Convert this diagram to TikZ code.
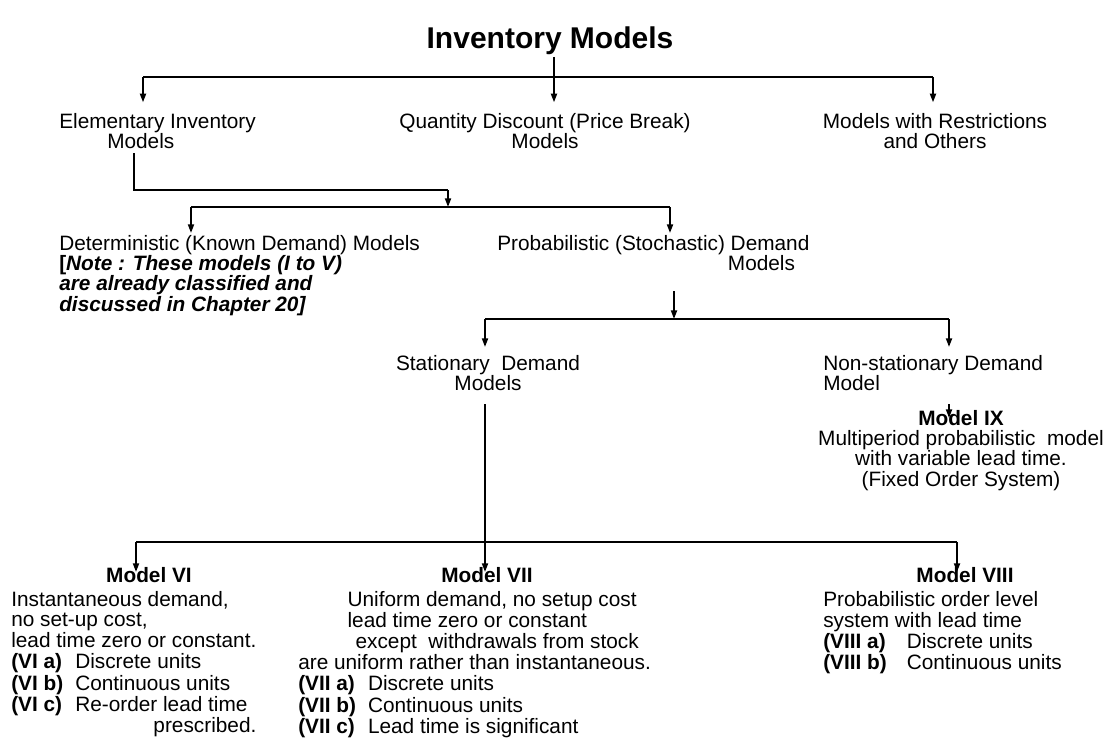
\documentclass[tikz,border=0pt]{standalone}
\usepackage{fontspec}
\setmainfont{Liberation Sans}
\usetikzlibrary{arrows.meta}

\tikzset{
  txt/.style={inner sep=0pt, font=\fontsize{15.6}{15.2}\selectfont},
  hd/.style={txt, font=\fontsize{15.6}{15.2}\selectfont\bfseries},
  ttl/.style={inner sep=0pt, font=\fontsize{22.5}{24}\selectfont\bfseries},
  link/.style={line width=1.4pt},
  arr/.style={link, -{Triangle[length=6.5pt,width=4.5pt]}},
}
\newcommand{\lab}[1]{\textbf{#1}}

\begin{document}
\begin{tikzpicture}[x=0.75pt,y=0.75pt,yscale=-1]
\useasboundingbox (0,0) rectangle (1113,756);

%title
\node[ttl, anchor=base] (title) at (550,49) {Inventory Models};

%first level
\node[txt, anchor=north west, align=left] (elem) at (59,113) {Elementary Inventory\\\hspace*{36pt}Models};
\node[txt, anchor=north, align=center] (qd) at (545,113) {Quantity Discount (Price Break)\\Models};
\node[txt, anchor=north, align=center] (restr) at (935,113) {Models with Restrictions\\and Others};

\coordinate (a1) at (143,77);
\coordinate (a2) at (554,77);
\coordinate (a3) at (933,77);
\draw[link] (a1) -- (a3);
\draw[arr, shorten <=1pt, shorten >=8pt] (title.south -| a2) -- (a2 |- qd.north);
\draw[arr, shorten >=8pt] (a1) -- (a1 |- elem.north);
\draw[arr, shorten >=8pt] (a3) -- (a3 |- restr.north);

%second level
\coordinate (e1) at (134,190);
\coordinate (e2) at (448,190);
\coordinate (b1) at (191,207);
\coordinate (b2) at (448,207);
\coordinate (b3) at (670,207);
\draw[link, shorten <=3pt] (elem.south -| e1) -- (e1) -- (e2);
\draw[arr] (e2) -- (b2);
\draw[link] (b1) -- (b3);

\node[txt, anchor=north west, align=left] (det) at (59,235) {Deterministic (Known Demand) Models\\ \textbf{[}\textbf{\textit{Note : These models (I to V)}}\\ \textbf{\textit{are already classified and}}\\ \textbf{\textit{discussed in Chapter 20]}}};
\node[txt, anchor=north west, align=left] (prob) at (497,235) {Probabilistic (Stochastic) Demand\\\hspace*{173pt}Models};
\draw[arr, shorten >=1.5pt] (b1) -- (b1 |- det.north);
\draw[arr, shorten >=1.5pt] (b3) -- (b3 |- prob.north);

%third level
\coordinate (p1) at (674,319);
\coordinate (c1) at (485,319);
\coordinate (c2) at (949,319);
\draw[arr, shorten <=15pt] (prob.south -| p1) -- (p1);
\draw[link] (c1) -- (c2);
\node[txt, anchor=north, align=center] (stat) at (488,355) {Stationary\ \ Demand\\Models};
\node[txt, anchor=north west, align=left] (nonst) at (823,355) {Non-stationary Demand\\Model};
\draw[arr, shorten >=6pt] (c1) -- (c1 |- stat.north);
\draw[arr, shorten >=6pt] (c2) -- (c2 |- nonst.north);

%model IX
\node[txt, anchor=north, align=center] (ix) at (961,410) {\textbf{Model IX}\\Multiperiod probabilistic\ \ model\\with variable lead time.\\(Fixed Order System)};
\draw[arr, shorten <=10pt, shorten >=-6pt] (nonst.south -| c2) -- (c2 |- ix.north);

%bottom level
\coordinate (s1) at (485,542);
\coordinate (d1) at (136,542);
\coordinate (d2) at (957,542);
\draw[link] (d1) -- (d2);
\node[hd, anchor=base] (m6) at (149,582) {Model VI};
\node[hd, anchor=base] (m7) at (487,582) {Model VII};
\node[hd, anchor=base] (m8) at (965,582) {Model VIII};
\draw[arr, shorten <=10pt, shorten >=-4pt] (stat.south -| s1) -- (s1 |- m7.north);
\draw[arr, shorten >=-4pt] (d1) -- (d1 |- m6.north);
\draw[arr, shorten >=-4pt] (d2) -- (d2 |- m8.north);

\node[txt, anchor=north west] (m6d) at (11,591) {\begin{tabular}{@{}l@{\hspace{9pt}}l@{}}
\multicolumn{2}{@{}l@{}}{Instantaneous demand,}\\
\multicolumn{2}{@{}l@{}}{no set-up cost,}\\
\multicolumn{2}{@{}l@{}}{lead time zero or constant.}\\
\lab{(VI a)} & Discrete units\\
\lab{(VI b)} & Continuous units\\
\lab{(VI c)} & Re-order lead time\\
 & \multicolumn{1}{@{}r@{}}{prescribed.}
\end{tabular}};
\node[txt, anchor=north west] (m7d) at (298,591) {\begin{tabular}{@{}l@{\hspace{9pt}}l@{}}
\multicolumn{2}{@{}l@{}}{\hspace*{37pt}Uniform demand, no setup cost}\\
\multicolumn{2}{@{}l@{}}{\hspace*{37pt}lead time zero or constant}\\
\multicolumn{2}{@{}l@{}}{\hspace*{43pt}except\ \ withdrawals from stock}\\
\multicolumn{2}{@{}l@{}}{are uniform rather than instantaneous.}\\
\lab{(VII a)} & Discrete units\\
\lab{(VII b)} & Continuous units\\
\lab{(VII c)} & Lead time is significant
\end{tabular}};
\node[txt, anchor=north west] (m8d) at (823,591) {\begin{tabular}{@{}l@{\hspace{15pt}}l@{}}
\multicolumn{2}{@{}l@{}}{Probabilistic order level}\\
\multicolumn{2}{@{}l@{}}{system with lead time}\\
\lab{(VIII a)} & Discrete units\\
\lab{(VIII b)} & Continuous units
\end{tabular}};

\end{tikzpicture}
\end{document}
